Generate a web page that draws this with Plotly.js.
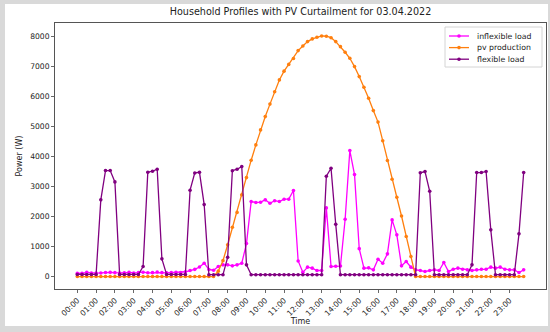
<!DOCTYPE html>
<html>
<head>
<meta charset="utf-8">
<script src="https://cdn.plot.ly/plotly-3.0.1.min.js"></script>
<style>
  html, body { margin: 0; padding: 0; background: #d9d9d9; width: 550px; height: 332px; overflow: hidden; }
  #chart { position: absolute; left: 5px; top: 4px; width: 543px; height: 322px; background: #fff; }
</style>
</head>
<body>
<div id="chart"></div>
<script>
// 15-minute values for 03.04.2022 (96 points, 00:00 ... 23:45)
const inflexibleLoad = [
  110, 105, 140, 120, 115, 120, 135, 140, 130, 120, 125, 140, 120, 130, 145, 125,
  130, 150, 130, 125, 130, 140, 135, 160, 200, 240, 320, 446, 235, 210, 335, 390,
  390, 357, 390, 446, 1100, 2500, 2470, 2480, 2557, 2446, 2530, 2501, 2580, 2580, 2868, 520,
  140, 313, 280, 202, 202, 2290, 335, 345, 350, 1912, 4201, 3400, 930, 280, 290, 224,
  579, 446, 757, 1890, 1390, 357, 501, 313, 224, 202, 168, 202, 224, 202, 468, 168,
  246, 280, 246, 224, 202, 224, 246, 246, 313, 280, 313, 246, 224, 224, 135, 224
];
const pvProduction = [
  0, 0, 0, 0, 0, 0, 0, 0, 0, 0, 0, 0, 0, 0, 0, 0,
  0, 0, 0, 0, 0, 0, 0, 0, 0, 0, 0, 0, 0, 0, 180, 530,
  1060, 1640, 2140, 2724, 3300, 3880, 4390, 4890, 5334, 5750, 6160, 6557, 6850, 7075, 7270, 7535,
  7690, 7835, 7924, 7979, 8023, 8015, 7965, 7834, 7667, 7479, 7279, 7001, 6668, 6312, 5945, 5534,
  5150, 4530, 3870, 3245, 2645, 2020, 1335, 670, 0, 0, 0, 0, 0, 0, 0, 0,
  0, 0, 0, 0, 0, 0, 0, 0, 0, 0, 0, 0, 0, 0, 0, 0
];
const flexibleLoad = [
  70, 70, 70, 70, 70, 2557, 3535, 3535, 3157, 70, 70, 70, 70, 70, 335, 3479,
  3512, 3579, 590, 70, 70, 70, 70, 70, 2880, 3455, 3475, 2400, 62, 62, 62, 62,
  640, 3530, 3579, 3668, 390, 62, 62, 62, 62, 62, 62, 62, 62, 62, 62, 62,
  62, 62, 62, 62, 62, 3345, 3612, 1740, 62, 62, 62, 62, 62, 62, 62, 62,
  62, 62, 62, 62, 62, 62, 62, 62, 62, 3460, 3500, 2845, 62, 62, 62, 62,
  62, 62, 62, 62, 390, 3468, 3468, 3505, 1557, 62, 62, 62, 62, 62, 1424, 3468
];
const seriesNames = ['inflexible load', 'pv production', 'flexible load'];
const seriesColors = ['#ff00ff', '#ff7f0e', '#800080'];
const day = '2022-04-03';

function pad(n) { return (n < 10 ? '0' : '') + n; }
const times = inflexibleLoad.map((_, i) => day + ' ' + pad(Math.floor(i / 4)) + ':' + pad((i % 4) * 15));
const hourTicks = times.filter((_, i) => i % 4 === 0);
const hourLabels = hourTicks.map(t => t.slice(11, 16));

const series = [inflexibleLoad, pvProduction, flexibleLoad];
const traces = series.map((vals, k) => ({
  x: times,
  y: vals,
  name: seriesNames[k],
  type: 'scatter',
  mode: 'lines+markers',
  line: { color: seriesColors[k], width: 1.3 },
  marker: { color: seriesColors[k], size: 3.6 },
  showlegend: false
}));

// plot area geometry (px inside the chart div)
const W = 543, H = 322, ML = 50, MR = 2, MT = 19, MB = 37;
const PW = W - ML - MR, PH = H - MT - MB;
const px = x => (x - ML) / PW;
const py = y => 1 - (y - MT) / PH;

const font = 'DejaVu Sans, sans-serif';

// hand-drawn legend (matplotlib style, compact rows)
const shapes = [];
const annotations = [];
const legL = 440, legR = 537, legT = 23, legB = 63;
shapes.push({
  type: 'rect', xref: 'paper', yref: 'paper',
  x0: px(legL), x1: px(legR), y0: py(legB), y1: py(legT),
  line: { color: '#d4d4d4', width: 1 }, fillcolor: 'rgba(255,255,255,0.85)', layer: 'above'
});
seriesNames.forEach((name, k) => {
  const yy = 32 + k * 11.6;
  shapes.push({
    type: 'line', xref: 'paper', yref: 'paper',
    x0: px(444), x1: px(464), y0: py(yy), y1: py(yy),
    line: { color: seriesColors[k], width: 1.3 }, layer: 'above'
  });
  shapes.push({
    type: 'circle', xref: 'paper', yref: 'paper',
    x0: px(452.2), x1: px(455.8), y0: py(yy + 1.8), y1: py(yy - 1.8),
    line: { color: seriesColors[k], width: 0 }, fillcolor: seriesColors[k], layer: 'above'
  });
  annotations.push({
    xref: 'paper', yref: 'paper', x: px(470), y: py(yy),
    xanchor: 'left', yanchor: 'middle', showarrow: false,
    text: name, font: { family: font, size: 7.8, color: '#222' }
  });
});

const layout = {
  width: W,
  height: H,
  margin: { l: ML, r: MR, t: MT, b: MB },
  paper_bgcolor: '#ffffff',
  plot_bgcolor: '#ffffff',
  font: { family: font, size: 8, color: '#222' },
  title: {
    text: 'Household Profiles with PV Curtailment for 03.04.2022',
    font: { family: font, size: 9.6, color: '#222' },
    x: 0.5, xref: 'paper', xanchor: 'center',
    y: 1 - 8 / H, yref: 'container', yanchor: 'middle'
  },
  xaxis: {
    type: 'date',
    range: ['2022-04-02 22:48:45', '2022-04-04 00:56:15'],
    tickmode: 'array',
    tickvals: hourTicks,
    ticktext: hourLabels,
    tickangle: -45,
    ticks: 'outside', ticklen: 3, tickwidth: 0.8, tickcolor: '#444',
    tickfont: { family: font, size: 7.6, color: '#222' },
    showgrid: false, zeroline: false,
    showline: true, mirror: true, linecolor: '#555', linewidth: 1,
    title: { text: 'Time', font: { family: font, size: 8, color: '#222' }, standoff: 2 },
    automargin: false
  },
  yaxis: {
    range: [-415, 8455],
    tick0: 0, dtick: 1000,
    ticks: 'outside', ticklen: 3, tickwidth: 0.8, tickcolor: '#444',
    tickfont: { family: font, size: 7.6, color: '#222' },
    showgrid: false, zeroline: false,
    showline: true, mirror: true, linecolor: '#555', linewidth: 1,
    title: { text: 'Power (W)', font: { family: font, size: 8, color: '#222' }, standoff: 6 },
    automargin: false
  },
  shapes: shapes,
  annotations: annotations,
  showlegend: false
};

Plotly.newPlot('chart', traces, layout, { displayModeBar: false, staticPlot: true });
</script>
</body>
</html>
